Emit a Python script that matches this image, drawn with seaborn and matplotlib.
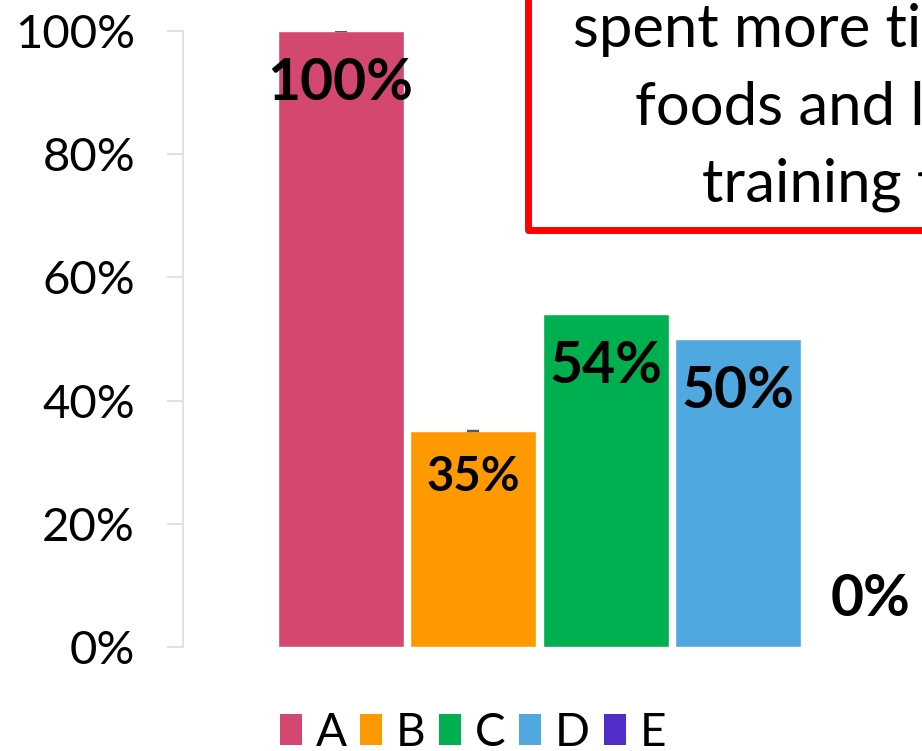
import matplotlib
matplotlib.use("Agg")
import matplotlib.pyplot as plt
from matplotlib.patches import Patch, Rectangle
import seaborn as sns
import pandas as pd

# Data
categories = ["A", "B", "C", "D", "E"]
values = [1.00, 0.35, 0.54, 0.50, 0.00]
value_labels = ["100%", "35%", "54%", "50%", "0%"]
colors = ["#D44870", "#FF9900", "#00B050", "#50A8E0", "#532DCC"]
y_ticks = [0.0, 0.2, 0.4, 0.6, 0.8, 1.0]
y_tick_labels = ["0%", "20%", "40%", "60%", "80%", "100%"]
note_lines = ["spent more time", "foods and less", "training time"]

sns.set_theme(style="white")
plt.rcParams["font.family"] = ["Lato", "DejaVu Sans"]
plt.rcParams["text.color"] = "black"
plt.rcParams["ytick.labelcolor"] = "black"

W, H = 922, 751
fig = plt.figure(figsize=(W / 100, H / 100), dpi=100)

# Plot area: left axis at x=183 px, 0% at y=647 px, 100% at y=31 px
unit = 132.5
x_left = -1.19
x_right = 5.19
ax = fig.add_axes([183 / W, (H - 647) / H, (x_right - x_left) * unit / W, (647 - 31) / H])

df = pd.DataFrame({"cat": categories, "val": values})
sns.barplot(data=df, x="cat", y="val", hue="cat", palette=colors,
            width=0.95, legend=False, ax=ax, saturation=1)

# small zero-length error caps on the first two bars
ax.errorbar([0, 1], [values[0], values[1]], yerr=0, fmt="none",
            ecolor="#595959", capsize=4.3, capthick=1.6, elinewidth=0)

ax.set_xlim(x_left, x_right)
ax.set_ylim(0, 1)
ax.set_yticks(y_ticks)
ax.set_yticklabels(y_tick_labels, fontsize=34, color="black")
ax.set_xticks([])
ax.set_xlabel("")
ax.set_ylabel("")
ax.tick_params(axis="y", length=11.5, width=1.1, color="#D9D9D9", pad=23, left=True,
               labelcolor="black")
for s in ["top", "right", "bottom"]:
    ax.spines[s].set_visible(False)
ax.spines["left"].set_color("#D9D9D9")
ax.spines["left"].set_linewidth(1.1)

# Value labels
label_sizes = [41, 34, 41, 41, 41]
for i, (v, lab) in enumerate(zip(values, value_labels)):
    offset = -52 if v > 0 else 47
    if i == 1:
        offset = -46
    ax.annotate(lab, xy=(i, v), xytext=(0, offset), textcoords="offset pixels",
                ha="center", va="center", fontsize=label_sizes[i],
                fontweight="bold", color="black")

# Callout box with red border
box = Rectangle((528 / W, (H - 230) / H), 1.0, 1.0, transform=fig.transFigure,
                fill=True, facecolor="white", edgecolor="#FF0000", linewidth=5,
                joinstyle="round", clip_on=False, zorder=5)
fig.patches.append(box)
note_x = [573, 635, 702]
note_base = [47, 125, 201]
for txt, nx, nb in zip(note_lines, note_x, note_base):
    fig.text(nx / W, (H - nb) / H, txt, ha="left", va="baseline",
             fontsize=43, color="black", zorder=6)

# Legend
handles = [Patch(facecolor=c, edgecolor="none", label=k) for c, k in zip(colors, categories)]
fig.legend(handles=handles, loc="center", bbox_to_anchor=(473 / W, (H - 733) / H),
           ncol=5, frameon=False, fontsize=33, handlelength=0.48, handleheight=0.66,
           handletextpad=0.3, columnspacing=0.3, borderpad=0, borderaxespad=0,
           labelcolor="black")

fig.savefig("out.png", dpi=100)
